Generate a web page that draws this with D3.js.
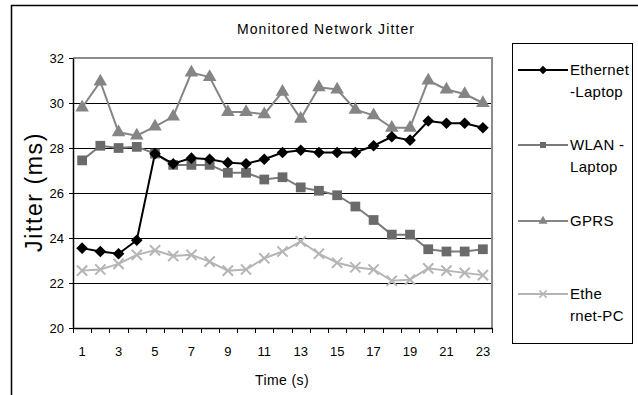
<!DOCTYPE html>
<html><head><meta charset="utf-8">
<script src="https://cdn.jsdelivr.net/npm/d3@7"></script>
<style>
body{margin:0;background:#fff;}
svg{display:block;}
svg text{font-family:'Liberation Sans', Arial, Helvetica, sans-serif;}
</style></head>
<body>
<svg id="c" width="638" height="395"></svg>
<script>
const title = "Monitored Network Jitter";
const xTitle = "Time (s)";
const yTitle = "Jitter (ms)";
const times = d3.range(1, 24);
const xTickLabels = [1,3,5,7,9,11,13,15,17,19,21,23];
const yTicks = [20,22,24,26,28,30,32];
const seriesNames = ["Ethernet-Laptop","WLAN - Laptop","GPRS","Ethernet-PC"];
const legendLabels = [["Ethernet","-Laptop"],["WLAN -","Laptop"],["GPRS"],["Ethe","rnet-PC"]];
const ethernetLaptop = [23.55,23.4,23.3,23.9,27.75,27.3,27.55,27.5,27.35,27.3,27.5,27.8,27.9,27.8,27.8,27.8,28.1,28.5,28.35,29.2,29.1,29.1,28.9];
const wlanLaptop = [27.45,28.1,28.0,28.05,27.75,27.25,27.25,27.25,26.9,26.9,26.6,26.7,26.25,26.1,25.9,25.4,24.8,24.15,24.15,23.5,23.4,23.4,23.5];
const gprs = [29.8,30.95,28.7,28.55,28.95,29.4,31.35,31.15,29.6,29.6,29.5,30.5,29.3,30.7,30.6,29.7,29.45,28.9,28.9,31.0,30.6,30.4,30.0];
const ethernetPC = [22.55,22.6,22.85,23.25,23.45,23.2,23.25,22.95,22.55,22.6,23.1,23.4,23.85,23.3,22.9,22.7,22.6,22.1,22.15,22.65,22.55,22.45,22.35];

const FONT = "'Liberation Sans', Arial, Helvetica, sans-serif";
const svg = d3.select("#c");
// outer frame
svg.append("rect").attr("x",11.5).attr("y",5.5).attr("width",700).attr("height",500)
  .attr("fill","none").attr("stroke","#000").attr("stroke-width",1.5);

const L=73, R=492, T=58, B=328;
const x = d3.scaleBand().domain(times).range([L,R]);
const y = d3.scaleLinear().domain([20,32]).range([B,T]);
const cx = d => x(d) + x.bandwidth()/2;

// gridlines
svg.append("g").selectAll("line").data(yTicks.filter(v=>v>20 && v<32)).join("line")
  .attr("x1",L).attr("x2",R).attr("y1",d=>Math.round(y(d))+0.5).attr("y2",d=>Math.round(y(d))+0.5)
  .attr("stroke","#000").attr("stroke-width",1);
// plot border top/right gray
svg.append("path").attr("d",`M${L},${T}H${R}V${B}`).attr("fill","none").attr("stroke","#8c8c8c").attr("stroke-width",2);

// y axis
const yAxis = svg.append("g").attr("transform",`translate(${L},0)`)
  .call(d3.axisLeft(y).tickValues(yTicks).tickSize(4).tickPadding(5).tickSizeOuter(0));
yAxis.attr("font-family",FONT);
yAxis.select(".domain").attr("stroke","#000").attr("stroke-width",1.5);
yAxis.selectAll(".tick line").attr("stroke","#000");
yAxis.selectAll("text").attr("font-size",13).attr("fill","#000").attr("font-family",FONT);

// x axis
const xAxis = svg.append("g").attr("transform",`translate(0,${B})`)
  .call(d3.axisBottom(x).tickValues(xTickLabels).tickSize(0).tickPadding(19).tickSizeOuter(0));
xAxis.attr("font-family",FONT);
xAxis.select(".domain").attr("stroke","#000").attr("stroke-width",1.5);
xAxis.selectAll("text").attr("font-size",13).attr("fill","#000").attr("font-family",FONT);
// tick marks at band boundaries
svg.append("g").selectAll("line").data(times.concat([24])).join("line")
  .attr("x1",d=>Math.round(d<=23?x(d):R)+0.5).attr("x2",d=>Math.round(d<=23?x(d):R)+0.5)
  .attr("y1",B).attr("y2",B+5).attr("stroke","#000");

// titles
svg.append("text").attr("x",326).attr("y",34).attr("text-anchor","middle").attr("font-family",FONT)
  .attr("font-size",14).attr("letter-spacing",1.1).text(title);
svg.append("text").attr("x",282).attr("y",385).attr("text-anchor","middle").attr("font-family",FONT)
  .attr("font-size",14).attr("letter-spacing",0.4).text(xTitle);
svg.append("text").attr("transform","translate(42,192) rotate(-90)").attr("text-anchor","middle").attr("font-family",FONT)
  .attr("font-size",23).attr("letter-spacing",1.6).text(yTitle);

const styles = [
  {data:ethernetLaptop, line:"#000", fill:"#000", sym:d3.symbolSquare, rot:45, size:68, lsize:36},
  {data:wlanLaptop, line:"#7a7a7a", fill:"#6a6a6a", sym:d3.symbolSquare, rot:0, size:95, lsize:36},
  {data:gprs, line:"#858585", fill:"#858585", sym:d3.symbolTriangle, rot:0, size:80, lsize:36},
  {data:ethernetPC, line:"#b5b5b5", fill:"#b5b5b5", sym:d3.symbolX, rot:0, size:70, lsize:36, stroke:true}
];

const line = d3.line().x((d,i)=>cx(times[i])).y(d=>y(d));
[3,2,1,0].forEach(k=>{
  const s = styles[k];
  const g = svg.append("g");
  g.append("path").attr("d",line(s.data)).attr("fill","none").attr("stroke",s.line).attr("stroke-width",2);
  g.selectAll("path.m").data(s.data).join("path").attr("class","m")
    .attr("transform",(d,i)=>`translate(${cx(times[i])},${y(d)}) rotate(${s.rot})`)
    .attr("d",d3.symbol(s.sym, s.size))
    .attr("fill",s.stroke?"none":s.fill)
    .attr("stroke",s.stroke?s.fill:"none").attr("stroke-width",s.stroke?2:0);
});

// legend
svg.append("rect").attr("x",512.5).attr("y",43.5).attr("width",120).attr("height",300)
  .attr("fill","#fff").attr("stroke","#000").attr("stroke-width",1);
const legY = [70,145,221,294];
styles.forEach((s,k)=>{
  const g = svg.append("g");
  g.append("line").attr("x1",518).attr("x2",568).attr("y1",legY[k]).attr("y2",legY[k])
    .attr("stroke",s.line).attr("stroke-width",2);
  g.append("path").attr("transform",`translate(543,${legY[k]}) rotate(${s.rot})`).attr("d",d3.symbol(s.sym,s.lsize))
    .attr("fill",s.stroke?"none":s.fill).attr("stroke",s.stroke?s.fill:"none").attr("stroke-width",s.stroke?1.5:0);
  legendLabels[k].forEach((t,j)=>{
    g.append("text").attr("x",570).attr("y",legY[k]+5+j*22).attr("font-family",FONT)
      .attr("font-size",15).attr("letter-spacing",0.3).text(t);
  });
});
</script>
</body></html>
